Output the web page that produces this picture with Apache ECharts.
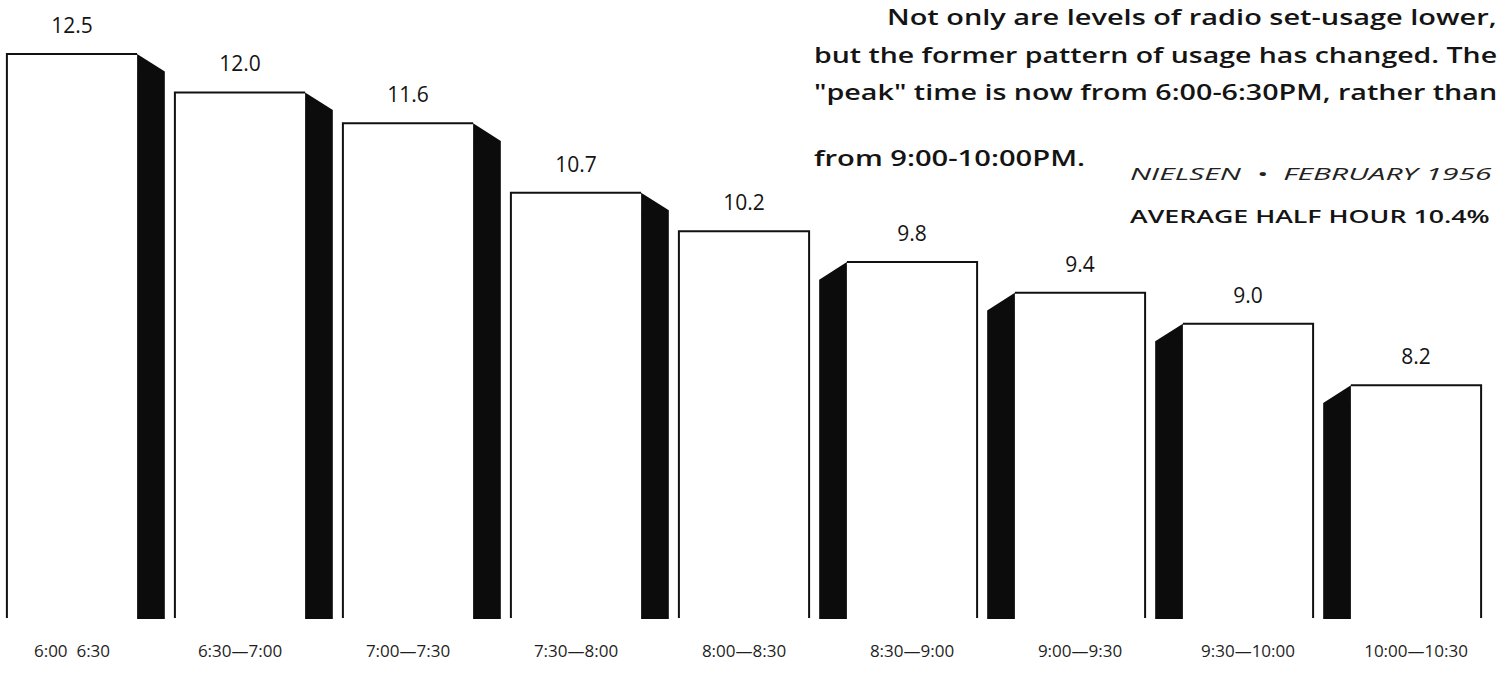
<!DOCTYPE html>
<html><head><meta charset="utf-8">
<script src="https://cdn.jsdelivr.net/npm/echarts@6/dist/echarts.min.js"></script>
<style>html,body{margin:0;padding:0;background:#fff}#chart{width:1501px;height:686px}</style>
</head><body><div id="chart"></div>
<script>
// ---- data ----
const categories = ['6:00  6:30', '6:30\u20147:00', '7:00\u20147:30', '7:30\u20148:00', '8:00\u20148:30',
  '8:30\u20149:00', '9:00\u20149:30', '9:30\u201410:00', '10:00\u201410:30'];
const usage = [12.5, 12.0, 11.6, 10.7, 10.2, 9.8, 9.4, 9.0, 8.2];
const AXIS_MIN = 5.18;
const AXIS_MAX = 13.2;
const noteLines = [
  'Not only are levels of radio set-usage lower,',
  'but the former pattern of usage has changed. The',
  '"peak" time is now from 6:00-6:30PM, rather than',
  'from 9:00-10:00PM.'
];
const sourceLine = 'NIELSEN  \u2022  FEBRUARY 1956';
const averageLine = 'AVERAGE HALF HOUR 10.4%';

// ---- helpers ----
const FAM = "'Open Sans', 'DejaVu Sans', sans-serif";
const mctx = document.createElement('canvas').getContext('2d');
function fitText(text, x0, x1, yc, font, fill) {
  mctx.font = font;
  const w = mctx.measureText(text).width;
  return {
    type: 'text', x: x0, y: yc, scaleX: (x1 - x0) / w, silent: true,
    style: { text: text, font: font, fill: fill, align: 'left', verticalAlign: 'middle',
             textAlign: 'left', textVerticalAlign: 'middle' }
  };
}
const paraFont = "600 22px " + FAM;
const graphics = [
  fitText(noteLines[0], 887, 1497, 17, paraFont, '#141414'),
  fitText(noteLines[1], 814, 1497, 54, paraFont, '#141414'),
  fitText(noteLines[2], 814, 1497, 91, paraFont, '#141414'),
  fitText(noteLines[3], 814, 1085, 157, paraFont, '#141414'),
  fitText(sourceLine, 1130, 1492, 173, "italic 400 17px " + FAM, '#222'),
  fitText(averageLine, 1130, 1490, 216, "600 18px " + FAM, '#141414')
];

const chart = echarts.init(document.getElementById('chart'), null, { renderer: 'svg' });
chart.setOption({
  animation: false,
  backgroundColor: '#ffffff',
  grid: { left: 72, right: 85, top: 0, bottom: 68 },
  xAxis: {
    type: 'category', data: categories, boundaryGap: false,
    axisLine: { show: false }, axisTick: { show: false }, splitLine: { show: false },
    axisLabel: { interval: 0, margin: 24, fontSize: 17, color: '#1e1e1e', fontFamily: FAM }
  },
  yAxis: { type: 'value', min: AXIS_MIN, max: AXIS_MAX, show: false },
  graphic: graphics,
  series: [{
    type: 'custom',
    data: usage.map((v, i) => [i, v]),
    encode: { x: 0, y: 1 },
    renderItem: function (params, api) {
      const i = params.dataIndex;
      const v = api.value(1);
      const top = api.coord([i, v]);
      const base = api.coord([i, AXIS_MIN]);
      const band = api.size([1, 0])[0];
      const fw = band * 0.775, d = band * 0.165, drop = band * 0.105;
      const cx = top[0], yt = top[1], yb = base[1];
      const x0 = cx - fw / 2, x1 = cx + fw / 2;
      const side = i < 4 ? 1 : (i > 4 ? -1 : 0);
      const ch = [];
      ch.push({ type: 'rect', shape: { x: x0, y: yt, width: fw, height: yb - yt }, style: { fill: '#fff' } });
      let pts;
      if (side === 1) pts = [[x0, yb], [x0, yt], [x1, yt]];
      else if (side === -1) pts = [[x0, yt], [x1, yt], [x1, yb]];
      else pts = [[x0, yb], [x0, yt], [x1, yt], [x1, yb]];
      ch.push({ type: 'polyline', shape: { points: pts }, style: { stroke: '#111', lineWidth: 2, fill: null } });
      if (side === 1) {
        ch.push({ type: 'polygon', shape: { points: [[x1, yt], [x1 + d, yt + drop], [x1 + d, yb + 1], [x1, yb + 1]] }, style: { fill: '#0c0c0c' } });
      } else if (side === -1) {
        ch.push({ type: 'polygon', shape: { points: [[x0, yt], [x0 - d, yt + drop], [x0 - d, yb + 1], [x0, yb + 1]] }, style: { fill: '#0c0c0c' } });
      }
      ch.push({ type: 'text', x: cx, y: yt - 29,
        style: { text: v.toFixed(1), font: "400 21px " + FAM, fill: '#141414', align: 'center', verticalAlign: 'middle' } });
      return { type: 'group', children: ch };
    }
  }]
});
</script>
</body></html>
